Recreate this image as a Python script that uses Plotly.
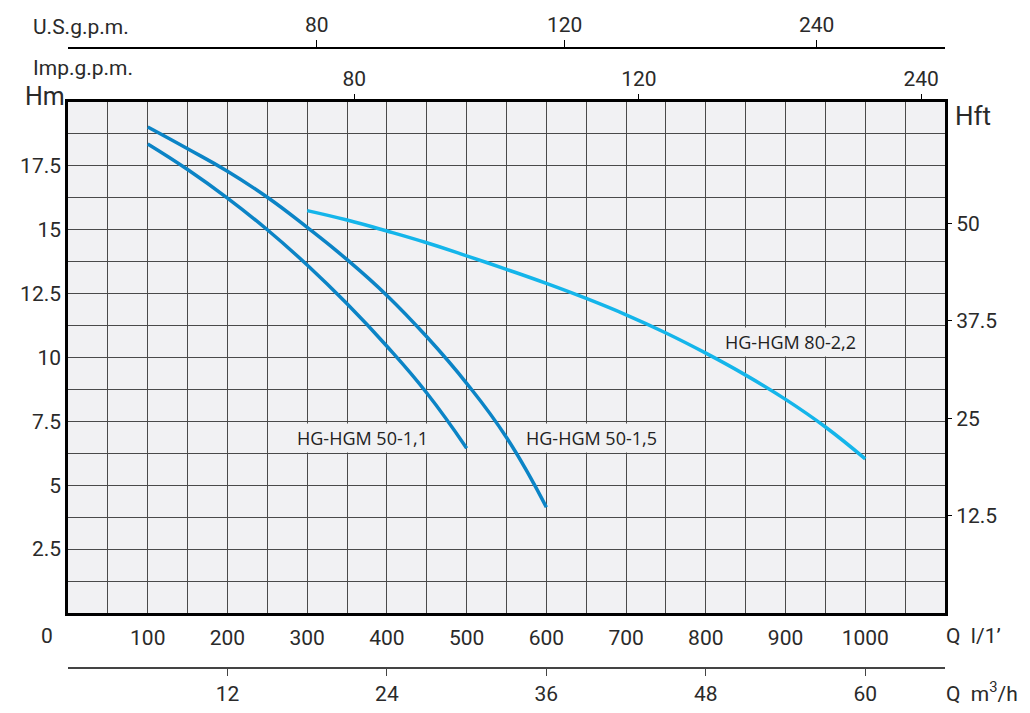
import plotly.graph_objects as go

# pump curves, Q in l/min, H in m
q_50_11 = [100, 150, 200, 250, 300, 350, 400, 450, 500]
h_50_11 = [18.36, 17.36, 16.24, 15.0, 13.62, 12.10, 10.44, 8.61, 6.45]

q_50_15 = [100, 150, 200, 250, 300, 350, 400, 450, 500, 550, 600]
h_50_15 = [19.02, 18.17, 17.29, 16.27, 15.09, 13.83, 12.43, 10.81, 8.99, 6.87, 4.14]

q_80_22 = [300, 350, 400, 450, 500, 550, 600, 650, 700, 750, 800, 850, 900, 950, 1000]
h_80_22 = [15.75, 15.38, 14.95, 14.49, 13.98, 13.45, 12.90, 12.31, 11.67, 10.96,
           10.17, 9.31, 8.36, 7.28, 6.03]

# axis ticks
q_ticks = [100, 200, 300, 400, 500, 600, 700, 800, 900, 1000]
h_ticks = [2.5, 5, 7.5, 10, 12.5, 15, 17.5]
hft_ticks = [12.5, 25, 37.5, 50]
m3h_ticks = [12, 24, 36, 48, 60]
imp_pos = [359, 716, 1070]
imp_labels = ['80', '120', '240']
us_pos = [312, 623, 939]
us_labels = ['80', '120', '240']

FONT = "Roboto, DejaVu Sans, sans-serif"
BG = '#f1f1f3'
GRID = '#4a4a4a'
TXT = '#2a2a2a'

fig = go.Figure()
for q, h, c, n in [(q_50_11, h_50_11, '#0b84c6', 'HG-HGM 50-1,1'),
                   (q_50_15, h_50_15, '#0b84c6', 'HG-HGM 50-1,5'),
                   (q_80_22, h_80_22, '#14b5ea', 'HG-HGM 80-2,2')]:
    fig.add_trace(go.Scatter(x=q, y=h, mode='lines', name=n,
                             line=dict(color=c, width=3.5, shape='spline',
                                       smoothing=1.3)))

# page body has an 8px margin, so the figure is drawn 8px smaller and offset
OFF = 8
W, H = 1030 - OFF, 713 - OFF
# plotting area in reference pixels: 68..945 x 48..668
L, R, T, B = 68, 945, 48, 668
def px(x, y):
    return (x - L) / (R - L), (B - y) / (B - T)

ydom = [px(0, 613)[1], px(0, 102)[1]]

xvals = list(range(0, 1101, 50))
xtext = [str(v) if v in q_ticks else '' for v in xvals]
yvals = [i * 1.25 for i in range(17)]
ytext = [f'{v:g}' if v in h_ticks else '' for v in yvals]

tickfont = dict(family=FONT, size=21, color=TXT)

fig.update_layout(
    width=W, height=H,
    margin=dict(l=L - OFF, r=1030 - R, t=T - OFF, b=713 - B),
    paper_bgcolor='white', plot_bgcolor=BG,
    showlegend=False,
    xaxis=dict(range=[0, 1100], tickvals=xvals, ticktext=xtext, showgrid=True,
               gridcolor=GRID, gridwidth=1, showline=True, linecolor='black',
               linewidth=2.5, mirror=True, ticks='', ticklabelstandoff=4,
               tickfont=tickfont, zeroline=False, anchor='y', automargin=False),
    yaxis=dict(range=[0, 20], domain=ydom, tickvals=yvals, ticktext=ytext,
               showgrid=True, gridcolor=GRID, gridwidth=1, showline=True,
               linecolor='black', linewidth=2.5, mirror=True, ticks='',
               ticklabelstandoff=0, tickfont=tickfont, zeroline=False,
               automargin=False),
    yaxis2=dict(range=[0, 20 * 3.2808], overlaying='y', side='right',
                tickvals=hft_ticks, ticktext=[f'{v:g}' for v in hft_ticks],
                ticks='outside', ticklen=6, tickcolor='black', showgrid=False,
                showline=False, zeroline=False, tickfont=tickfont, automargin=False),
    xaxis2=dict(range=[0, 1100], overlaying='x', side='top', anchor='y',
                tickvals=imp_pos, ticktext=imp_labels, ticks='outside',
                ticklen=7, tickcolor='black', showgrid=False, showline=False,
                zeroline=False, tickfont=tickfont, automargin=False),
    xaxis3=dict(range=[0, 1100], overlaying='x', side='top', anchor='free',
                position=1, tickvals=us_pos, ticktext=us_labels, ticks='outside',
                ticklen=7, tickcolor='black', showgrid=False, showline=True,
                linecolor='black', linewidth=1.5, zeroline=False, tickfont=tickfont,
                automargin=False),
    xaxis4=dict(range=[0, 1100], overlaying='x', side='bottom', anchor='free',
                position=0, tickvals=[m * 1000 / 60 for m in m3h_ticks],
                ticktext=[str(m) for m in m3h_ticks], ticks='outside', ticklen=7,
                tickcolor='#444', showgrid=False, showline=True, linecolor='#444',
                linewidth=1.5, zeroline=False, tickfont=tickfont, automargin=False),
)

# invisible traces so every extra axis is drawn
for xa, ya in [('x2', 'y'), ('x3', 'y'), ('x4', 'y'), ('x', 'y2')]:
    fig.add_trace(go.Scatter(x=[None], y=[None], xaxis=xa, yaxis=ya,
                             hoverinfo='skip', showlegend=False))

annos = []
def txt(s, x, y, anchor='left', size=21):
    ax, ay = px(x, y)
    annos.append(dict(text=s, x=ax, y=ay, xref='paper', yref='paper',
                      xanchor=anchor, yanchor='middle', showarrow=False,
                      font=dict(family=FONT, size=size, color=TXT)))

txt('U.S.g.p.m.', 31, 27)
txt('Imp.g.p.m.', 31, 68)
txt('Hm', 23, 97, size=25)
txt('Hft', 953, 116, size=26)
txt('0', 47, 636, anchor='center')
txt('Q  l/1’', 944, 636)
txt('Q  m<sup>3</sup>/h', 944, 692)

labels = [('HG-HGM 50-1,1', 369, 6.85), ('HG-HGM 50-1,5', 657, 6.85),
          ('HG-HGM 80-2,2', 906, 10.6)]
for s, x, y in labels:
    annos.append(dict(text=s, x=x, y=y, xref='x', yref='y', showarrow=False,
                      bgcolor=BG, borderpad=2,
                      font=dict(family='Open Sans, Noto Sans, sans-serif',
                                size=18, color='#222')))

fig.update_layout(annotations=annos)
fig.write_html("out.html")
